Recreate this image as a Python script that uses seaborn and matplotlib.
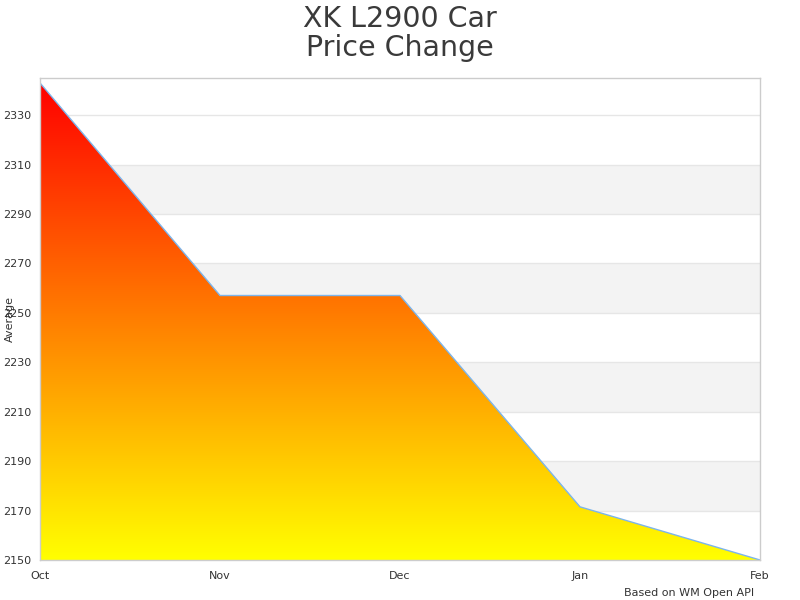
import matplotlib
matplotlib.use("Agg")
import matplotlib.pyplot as plt
import numpy as np
import pandas as pd
import seaborn as sns
from matplotlib.colors import LinearSegmentedColormap

months = ["Oct", "Nov", "Dec", "Jan", "Feb"]
average = [2343, 2257, 2257, 2171.5, 2150]
y_ticks = [2150, 2170, 2190, 2210, 2230, 2250, 2270, 2290, 2310, 2330]
band_starts = [2170, 2210, 2250, 2290]

sns.set_theme(style="white")
plt.rcParams['font.family'] = ['DejaVu Sans']

df = pd.DataFrame({"idx": np.arange(len(months)), "Average": average})

fig = plt.figure(figsize=(8, 6), dpi=100)
ax = fig.add_axes([0.05, 0.0667, 0.90, 0.8033])

ymin, ymax = 2150, 2345
ax.set_xlim(0, len(months) - 1)
ax.set_ylim(ymin, ymax)

for b in band_starts:
    ax.axhspan(b, b + 20, color="#f3f3f3", zorder=0, lw=0)
for t in y_ticks:
    ax.axhline(t, color="#e6e6e6", lw=1, zorder=0.5)

poly = ax.fill_between(df["idx"], df["Average"], ymin, color="none", lw=0, zorder=1)
cmap = LinearSegmentedColormap.from_list("ry", ["#ffff00", "#ff0000"])
grad = np.linspace(0, 1, 256).reshape(-1, 1)
img = ax.imshow(grad, cmap=cmap, aspect="auto", origin="lower",
                extent=[0, len(months) - 1, ymin, max(average)], zorder=1)
img.set_clip_path(poly.get_paths()[0], transform=ax.transData)

sns.lineplot(data=df, x="idx", y="Average", ax=ax, color="#7cb5ec", lw=1, zorder=2)

ax.set_xticks(df["idx"])
ax.set_xticklabels(months)
ax.set_yticks(y_ticks)
ax.tick_params(axis="both", labelsize=8, colors="#333333", length=0)
ax.tick_params(axis="x", pad=8)
ax.tick_params(axis="y", pad=6)

ax.set_xlabel("")
ax.set_ylabel("Average", fontsize=8, color="#333333")
ax.yaxis.set_label_coords(-0.035, 0.5)

for s in ax.spines.values():
    s.set_color("#cccccc")
    s.set_linewidth(1)

fig.suptitle("XK L2900 Car\nPrice Change", fontsize=20.5, color="#3a3a3a",
             y=0.992, linespacing=1.05)
fig.text(0.943, 0.004, "Based on WM Open API", fontsize=8, color="#333333",
         ha="right", va="bottom")

fig.savefig("out.png", dpi=100)
